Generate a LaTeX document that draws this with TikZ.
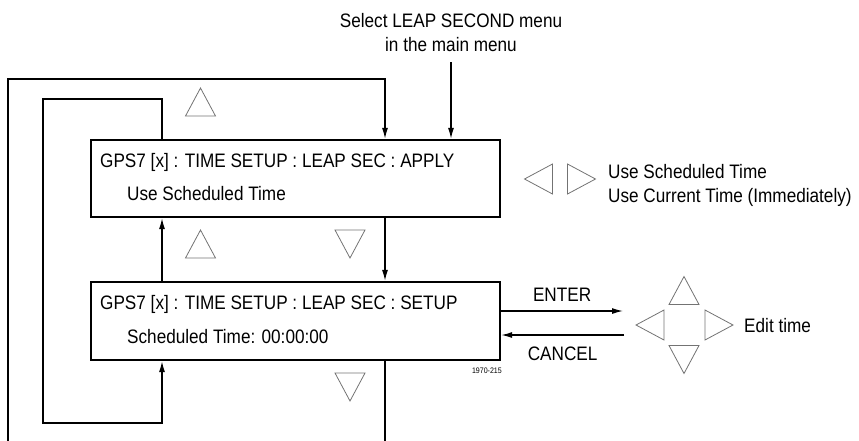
\documentclass[tikz,border=0pt]{standalone}
\usepackage{fontspec}
\setmainfont{Liberation Sans}[FakeStretch=0.88]
\usepackage{tikz}
\usetikzlibrary{arrows.meta,positioning,calc}

\begin{document}
\begin{tikzpicture}[
    x=1pt, y=-1pt,
    menubox/.style={rectangle, draw, line width=2.4pt, minimum width=409pt, minimum height=77pt, inner sep=0pt},
    txt/.style={font=\fontsize{19.5}{24.5}\selectfont, inner sep=0pt, anchor=base west},
    arrow/.style={-{Latex[length=11pt, width=6pt]}, line width=1.3pt},
    btn/.pic={\draw[black!55, line width=0.8pt, line join=miter] (-15,14) -- (0,-14) -- (15,14) -- cycle;}
]
\useasboundingbox (0,0) rectangle (859,440);

% Menu boxes
\node[menubox] (apply) at (295.5,178.5) {};
\node[txt] (apply-t1) at (100,167) {GPS7 [x] : TIME SETUP : LEAP SEC : APPLY};
\node[txt] (apply-t2) at (127,200) {Use Scheduled Time};

\node[menubox, minimum height=78pt] (setup) at (295.5,321) {};
\node[txt] (setup-t1) at (100,309) {GPS7 [x] : TIME SETUP : LEAP SEC : SETUP};
\node[txt] (setup-t2) at (127,343) {Scheduled Time: 00:00:00};
\node[font=\fontsize{8}{8}\selectfont, inner sep=0pt, anchor=base east] (fig-no) at (502,373) {1970-215};

% Entry from main menu
\node[txt, anchor=north, align=center] (menu) at (451,13) {Select LEAP SECOND menu\\in the main menu};
\draw[arrow, shorten <=10pt] (menu.south) -- (apply.north -| menu.south);

% Loops
\coordinate (col-l) at (162,0);
\coordinate (col-r) at (385,0);
\coordinate (in-tl) at (43,99);
\coordinate (in-bl) at (43,423);
\coordinate (out-tl) at (8,79);
\coordinate (out-bl) at (8,448);

\draw[arrow] (setup.south -| col-r) |- (out-bl) -- (out-tl) -| (apply.north -| col-r);
\draw[arrow] (apply.north -| col-l) |- (in-tl) -- (in-bl) -| (setup.south -| col-l);
\draw[arrow] (setup.north -| col-l) -- (apply.south -| col-l);
\draw[arrow] (apply.south -| col-r) -- (setup.north -| col-r);

% Up / down keys
\pic at (200.5,102) {btn};
\pic at (200.5,244) {btn};
\pic[rotate=180] at (350,244) {btn};
\pic[rotate=180] at (350,387) {btn};

% Apply choices
\pic[rotate=90] at (538.5,179) {btn};
\pic[rotate=-90] at (581.5,179) {btn};
\node[txt, anchor=north west, align=left] (choices) at (608,164) {Use Scheduled Time\\Use Current Time (Immediately)};

% Edit time
\coordinate (pad-in) at (623,311);
\coordinate (pad-out) at (624,335);
\draw[arrow] (setup.east |- pad-in) -- (pad-in) node[txt, midway, above=9pt] (enter) {ENTER};
\draw[arrow] (pad-out) -- (setup.east |- pad-out) node[txt, midway, below=11pt] (cancel) {CANCEL};

\pic at (684,290.5) {btn};
\pic[rotate=90] at (650,325) {btn};
\pic[rotate=-90] at (719,325) {btn};
\pic[rotate=180] at (684,359.5) {btn};
\node[txt] (edit) at (744,332) {Edit time};

\end{tikzpicture}
\end{document}
